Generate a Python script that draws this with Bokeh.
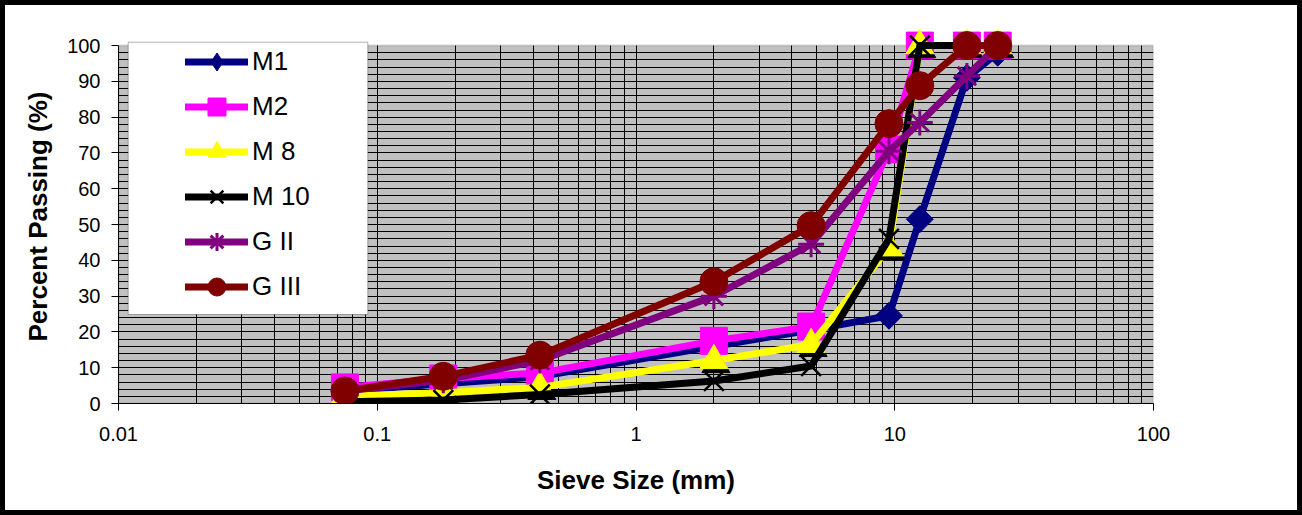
import math
from bokeh.plotting import figure
from bokeh.models import (Range1d, FixedTicker, CustomJSTickFormatter, Legend,
                          LegendItem, BoxAnnotation)
from bokeh.embed import file_html
from bokeh.resources import INLINE

# ---------------- data ----------------
sieve_mm = [0.075, 0.18, 0.425, 2.0, 4.75, 9.5, 12.5, 19.0, 25.0]
m1 = [3.5, 5.5, 7.5, 16.0, 20.5, 24.5, 51.5, 91.0, 98.0]
m2 = [4.5, 7.0, 8.5, 17.5, 21.5, 71.0, 100.0, 100.0, 100.0]
m8 = [2.0, 3.0, 4.5, 12.0, 16.5, 43.5, 100.0, 100.0, 100.0]
m10 = [0.5, 1.0, 2.5, 6.3, 10.5, 46.0, 100.0, 100.0, 100.0]
g2 = [3.5, 6.5, 12.0, 30.0, 44.5, 70.5, 78.5, 91.5, 100.0]
g3 = [3.5, 7.6, 13.5, 34.0, 49.7, 78.2, 88.8, 100.0, 100.0]

series_names = ["M1", "M2", "M 8", "M 10", "G II", "G III"]
series_values = [m1, m2, m8, m10, g2, g3]
x_ticks = [0.01, 0.1, 1, 10, 100]
y_ticks = list(range(0, 101, 10))

# ---------------- styles ----------------
styles = {
    "M1": dict(color="#000080", marker="square", size=19, angle=math.pi / 4, lw=1, legend_marker="diamond"),
    "M2": dict(color="#FF00FF", marker="square", size=27, angle=0, lw=1),
    "M 8": dict(color="#FFFF00", marker="triangle", size=28, angle=0, lw=1),
    "M 10": dict(color="#000000", marker="x", size=28, angle=0, lw=2.5),
    "G II": dict(color="#800080", marker="asterisk", size=26, angle=0, lw=3),
    "G III": dict(color="#800000", marker="circle", size=28, angle=0, lw=1),
}

BORDER = 5  # outer chart border (CSS), canvas is inset by this much
FRAME_W, FRAME_H = 1035, 374
Y0, Y1 = 0.0, 104.5
PX_DECADE = FRAME_W / 4.0
PX_UNIT = FRAME_H / (Y1 - Y0)


def x_from_px(px):
    return 10 ** (-2 + px / PX_DECADE)


def y_from_px(px):
    return Y0 + px / PX_UNIT


FONT = "Liberation Sans"

p = figure(x_axis_type="log", x_range=Range1d(0.01, 100), y_range=Range1d(Y0, Y1),
           frame_width=FRAME_W, frame_height=FRAME_H,
           min_border_left=118 - BORDER, min_border_right=149 - BORDER,
           min_border_top=29 - BORDER, min_border_bottom=112 - BORDER,
           output_backend="svg", toolbar_location=None,
           background_fill_color="white", border_fill_color="white")
p.outline_line_color = None
p.styles = {"border": "%dpx solid black" % BORDER, "box-sizing": "content-box"}

# grey plot area (0..100)
p.add_layout(BoxAnnotation(left=0.01, right=100, bottom=0, top=100,
                           fill_color="#C0C0C0", fill_alpha=1.0,
                           line_color="#808080", line_width=2, level="image"))

# grids
minor_x = [k * 10 ** e for e in (-2, -1, 0, 1) for k in range(2, 10)]
p.xgrid.ticker = FixedTicker(ticks=[0.1, 1, 10], minor_ticks=minor_x)
p.xgrid.grid_line_color = "black"
p.xgrid.minor_grid_line_color = "black"
p.xgrid.cross_bounds = (0, 100)
p.ygrid.ticker = FixedTicker(ticks=list(range(10, 100, 10)), minor_ticks=list(range(2, 100, 2)))
p.ygrid.grid_line_color = "black"
p.ygrid.minor_grid_line_color = "black"
p.ygrid.cross_bounds = (0.01, 100)

# axes
p.xaxis.ticker = FixedTicker(ticks=x_ticks, minor_ticks=[])
p.xaxis.formatter = CustomJSTickFormatter(code="return tick.toString();")
p.yaxis.ticker = FixedTicker(ticks=y_ticks, minor_ticks=[])
p.yaxis.bounds = (0, 100)
for ax in (p.xaxis[0], p.yaxis[0]):
    ax.axis_line_color = "black"
    ax.axis_line_width = 1
    ax.major_tick_line_color = "black"
    ax.major_tick_out = 7
    ax.major_tick_in = 0
    ax.minor_tick_line_color = None
    ax.major_label_text_font = FONT
    ax.major_label_text_font_size = "20px"
    ax.major_label_text_color = "black"
    ax.axis_label_text_font = FONT
    ax.axis_label_text_font_size = "26px"
    ax.axis_label_text_font_style = "bold"
    ax.axis_label_text_color = "black"
p.xaxis.major_label_standoff = 16
p.xaxis.axis_label = "Sieve Size (mm)"
p.xaxis.axis_label_standoff = 21
p.yaxis.major_label_standoff = 11
p.yaxis.axis_label = "Percent Passing (%)"
p.yaxis.axis_label_standoff = 11

# series
items = []
for name, vals in zip(series_names, series_values):
    st = styles[name]
    lr = p.line(sieve_mm, vals, line_color=st["color"], line_width=7,
                line_join="round", line_cap="round")
    if name == "M 8":
        sh_x = [x * 10 ** (2 / PX_DECADE) for x in sieve_mm]
        sh_y = [v - 4 / PX_UNIT for v in vals]
        p.scatter(sh_x, sh_y, marker="triangle", size=st["size"], color="black")
    leg_r = None
    if "legend_marker" in st:
        # slightly smaller diamond hidden under the rotated square; used for the legend swatch
        leg_r = p.scatter(sieve_mm, vals, marker=st["legend_marker"], size=26,
                          fill_color=st["color"], line_color=st["color"])
    sr = p.scatter(sieve_mm, vals, marker=st["marker"], size=st["size"], angle=st["angle"],
                   fill_color=st["color"], line_color=st["color"], line_width=st["lw"])
    items.append(LegendItem(label=name, renderers=[lr, leg_r if leg_r is not None else sr]))

# legend box
p.add_layout(BoxAnnotation(left=x_from_px(9.7), right=x_from_px(249.3),
                           bottom=y_from_px(89), top=y_from_px(361.3),
                           fill_color="white", fill_alpha=1.0,
                           line_color="black", line_width=1, level="guide"))

legend = Legend(items=items, location=(67, 94), padding=0, spacing=0, margin=0,
                glyph_width=63, glyph_height=45, label_height=45, label_standoff=4,
                border_line_color=None, background_fill_alpha=0,
                label_text_font=FONT, label_text_font_size="26px", label_text_color="black")
p.add_layout(legend)

open("out.html", "w").write(file_html(p, INLINE))
